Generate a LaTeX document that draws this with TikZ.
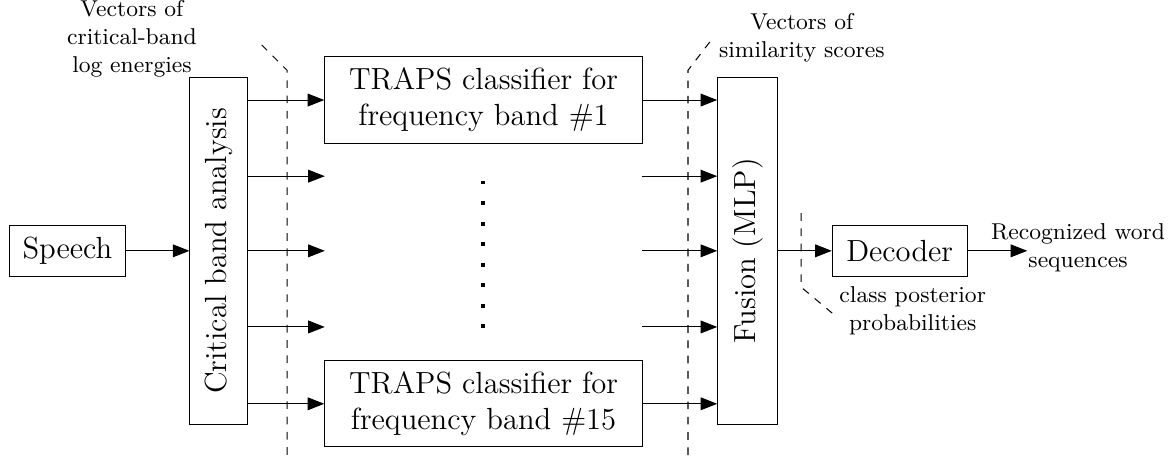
\documentclass[tikz,border=0pt]{standalone}
\usetikzlibrary{arrows.meta}
\tikzset{
  >={Triangle[length=6.5pt,width=5pt]},
  block/.style={draw, font=\large, inner sep=2pt},
  note/.style={font=\small, align=center},
}
\begin{document}
\begin{tikzpicture}
\useasboundingbox (0,0) rectangle (16.18,-6.30);
% boxes
\node[block, minimum width=1.59cm, minimum height=0.70cm] (speech) at (0.93,-3.46) {Speech};
\node[block, minimum width=0.79cm, minimum height=4.79cm] (crit) at (3.015,-3.46) {};
\node[rotate=90, font=\large] (critlab) at (crit) {Critical band analysis};
\node[block, align=center, minimum width=4.38cm, minimum height=1.19cm] (t1) at (6.67,-1.38)
  {TRAPS classifier for\\frequency band \#1};
\node[block, align=center, minimum width=4.38cm, minimum height=1.19cm] (t15) at (6.67,-5.57)
  {TRAPS classifier for\\frequency band \#15};
\node[block, minimum width=0.83cm, minimum height=4.79cm] (fus) at (10.315,-3.46) {};
\node[rotate=90, font=\large] (fuslab) at (fus) {Fusion (MLP)};
\node[block, minimum width=1.86cm, minimum height=0.70cm] (dec) at (12.41,-3.46) {Decoder};
% labels
\node[note] (lab1) at (1.82,-0.54) {Vectors of\\critical-band\\log energies};
\node[note] (lab2) at (11.06,-0.52) {Vectors of\\similarity scores};
\node[note] (lab3) at (12.59,-4.29) {class posterior\\probabilities};
\node[note] (lab4) at (14.87,-3.42) {Recognized word\\sequences};
% free ends of the middle rows
\coordinate (in2) at (4.48,-2.43);
\coordinate (in3) at (4.48,-3.46);
\coordinate (in4) at (4.48,-4.51);
\coordinate (out2) at (8.86,-2.43);
\coordinate (out3) at (8.86,-3.46);
\coordinate (out4) at (8.86,-4.51);
\coordinate (outend) at (14.17,-3.46);
% arrows
\draw[->] (speech) -- (crit.west |- speech);
\draw[->] (crit.east |- t1) -- (t1.west);
\draw[->] (crit.east |- t15) -- (t15.west);
\foreach \r in {2,3,4}{
  \draw[->] (crit.east |- in\r) -- (in\r);
  \draw[->] (out\r) -- (out\r -| fus.west);
}
\draw[->] (t1.east) -- (t1.east -| fus.west);
\draw[->] (t15.east) -- (t15.east -| fus.west);
\draw[->] (fus.east |- dec) -- (dec.west);
\draw[->] (dec.east) -- (outend);
% dots
\foreach \i in {0,...,7}
  \fill (6.635,-2.495-0.283*\i) rectangle +(0.05,-0.05);
% dashed markers
\draw[dashed] (3.61,-0.62) -- (3.96,-0.97) -- (3.96,-6.30);
\draw[dashed] (9.79,-0.58) -- (9.49,-0.97) -- (9.49,-6.30);
\draw[dashed] (11.05,-2.94) -- (11.05,-3.96) -- (11.48,-4.32);
\end{tikzpicture}
\end{document}
